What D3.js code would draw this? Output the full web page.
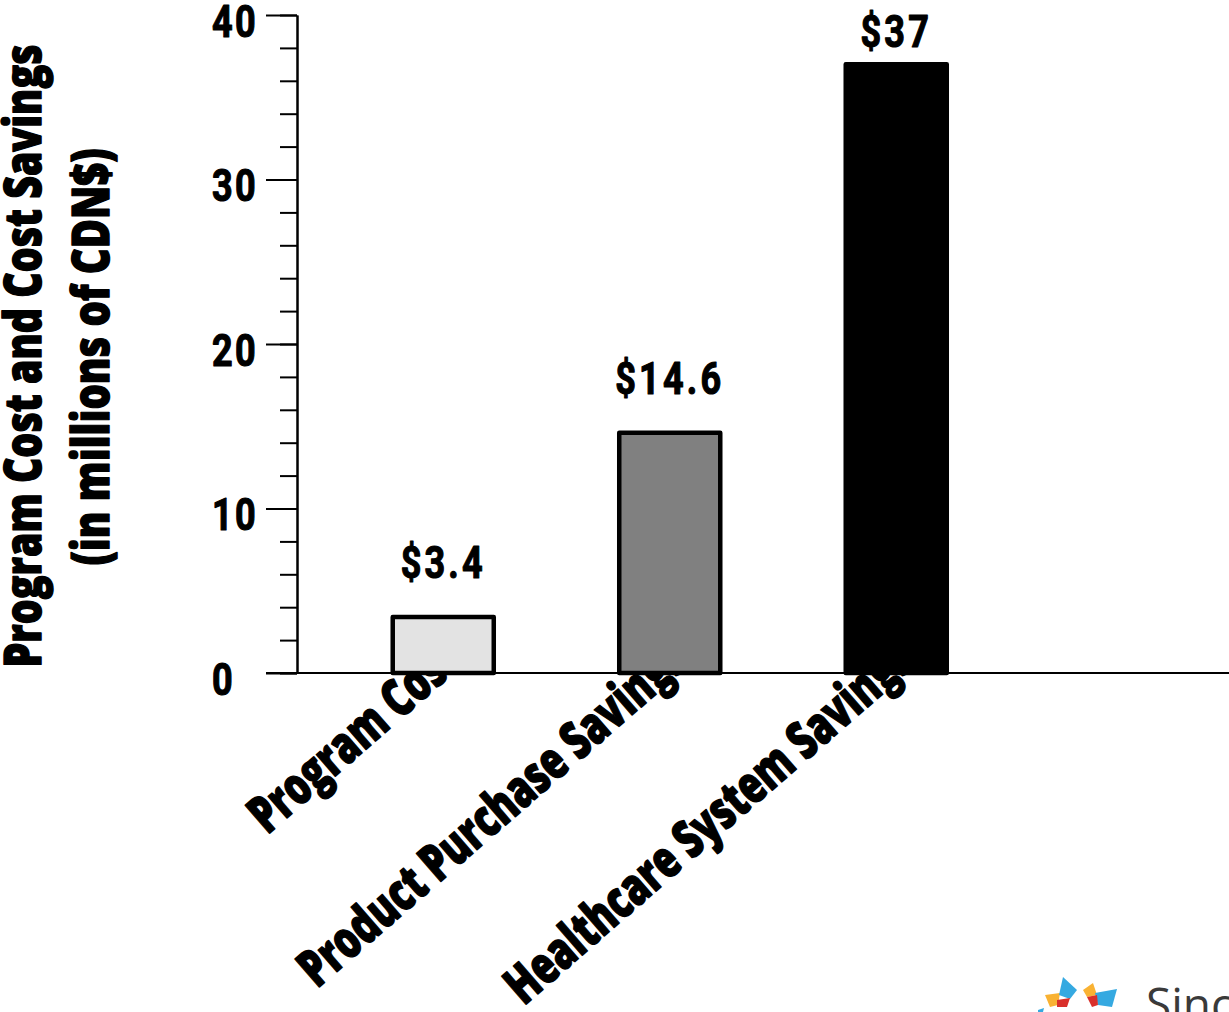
<!DOCTYPE html>
<html>
<head>
<meta charset="utf-8">
<script src="https://cdn.jsdelivr.net/npm/d3@7"></script>
<style>
  html, body { margin: 0; padding: 0; background: #fff; }
  svg { display: block; }
</style>
</head>
<body>
<svg id="chart" width="1229" height="1012"></svg>
<script>
// Program cost vs. savings, millions of CDN$
const categories = ["Program Cost", "Product Purchase Savings", "Healthcare System Savings"];
const values = [3.4, 14.6, 37];
const valueLabels = ["$3.4", "$14.6", "$37"];
const majorTicks = [0, 10, 20, 30, 40];
const tickLabels = ["0", "10", "20", "30", "40"];
const minorTicks = d3.range(0, 41, 2);
const titleLines = ["Program Cost and Cost Savings", "(in millions of CDN$)"];

const barFills = ["#e3e3e3", "#808080", "#000000"];
const headFont = "'Open Sans', 'Noto Sans', 'DejaVu Sans', sans-serif";
const numFont = "Roboto, 'Liberation Sans', sans-serif";

const W = 1229, H = 1012;
const svg = d3.select("#chart");

const y = d3.scaleLinear().domain([0, 40]).range([673, 15]);
const x = d3.scaleBand().domain(categories).range([330, 1009.5])
  .paddingInner(0.554).paddingOuter(0.277);

// heavy text: a thin same-colour outline thickens the glyphs
function heavy(sel, w) {
  return sel.attr("fill", "#000").attr("stroke", "#000")
    .attr("stroke-width", w).attr("stroke-linejoin", "round");
}

// y-axis title (two centred lines, rotated)
const titleG = svg.append("g");
const t1 = titleG.append("text")
  .attr("transform", "translate(41,356) rotate(-90)")
  .attr("text-anchor", "middle")
  .attr("font-family", headFont).attr("font-weight", 800).attr("font-size", 52)
  .text(titleLines[0]);
heavy(t1, 1.4);
const natural1 = t1.node().getComputedTextLength();
t1.attr("textLength", 623).attr("lengthAdjust", "spacingAndGlyphs");
const t2 = titleG.append("text")
  .attr("transform", "translate(109,357) rotate(-90)")
  .attr("text-anchor", "middle")
  .attr("font-family", headFont).attr("font-weight", 800).attr("font-size", 52)
  .attr("textLength", 417).attr("lengthAdjust", "spacingAndGlyphs")
  .text(titleLines[1]);
heavy(t2, 1.4);

// category labels use a slightly tighter condensing than the title
const squeeze = 0.95 * 623 / natural1;

// category labels, rotated; bars are drawn over their ends
heavy(svg.append("g").selectAll("text")
  .data(categories)
  .join("text")
  .attr("transform", d => `translate(${x(d) + x.bandwidth() / 2 + 20},665) rotate(-41) scale(${squeeze},1)`)
  .attr("text-anchor", "end")
  .attr("font-family", headFont).attr("font-weight", 800).attr("font-size", 52)
  .text(d => d), 1.4);

// baseline
svg.append("line")
  .attr("x1", 266).attr("x2", W)
  .attr("y1", y(0)).attr("y2", y(0))
  .attr("stroke", "#000").attr("stroke-width", 2);

// bars
svg.append("g").selectAll("rect")
  .data(values)
  .join("rect")
  .attr("x", (d, i) => x(categories[i]))
  .attr("width", x.bandwidth())
  .attr("y", d => y(d))
  .attr("height", d => y(0) - y(d))
  .attr("fill", (d, i) => barFills[i])
  .attr("stroke", "#000").attr("stroke-width", 4.5)
  .attr("stroke-linejoin", "round");

// value labels above bars, kept inside the plot top
heavy(svg.append("g").selectAll("text")
  .data(values)
  .join("text")
  .attr("transform", (d, i) => {
    const cx = x(categories[i]) + x.bandwidth() / 2;
    const by = Math.max(y(d) - 39, y(40) + 32);
    return `translate(${cx},${by}) scale(0.8,1)`;
  })
  .attr("text-anchor", "middle")
  .attr("font-family", numFont).attr("font-weight", 700).attr("font-size", 45)
  .attr("letter-spacing", 4)
  .text((d, i) => valueLabels[i]), 1.2);

// y axis: minor ticks every 2, major ticks every 10
const minorAxis = d3.axisLeft(y).tickValues(minorTicks).tickSize(17).tickSizeOuter(0).tickFormat("");
const majorAxis = d3.axisLeft(y).tickValues(majorTicks).tickSize(31).tickSizeOuter(0).tickFormat("");
const gMinor = svg.append("g").attr("transform", "translate(297,0)").call(minorAxis);
const gMajor = svg.append("g").attr("transform", "translate(297,0)").call(majorAxis);
[gMinor, gMajor].forEach(g => {
  g.selectAll("path, line").attr("stroke", "#000").attr("stroke-width", 2);
});

// tick labels, left aligned
heavy(svg.append("g").selectAll("text")
  .data(majorTicks)
  .join("text")
  .attr("transform", d => `translate(212,${y(d) + 21.5}) scale(0.8,1)`)
  .attr("font-family", numFont).attr("font-weight", 700).attr("font-size", 45)
  .attr("letter-spacing", 3)
  .text((d, i) => tickLabels[i]), 1.2);

// brand mark in the lower right corner
const logo = svg.append("g").attr("transform", "translate(1038,975)");
const logoShapes = [
  { c: "#f9b233", p: [[7, 20], [22, 18], [20, 30], [12, 32]] },
  { c: "#35a9e1", p: [[25, 2], [39, 15], [32, 24], [21, 20]] },
  { c: "#d9302b", p: [[19, 25], [32, 23], [29, 32], [19, 32]] },
  { c: "#f9b233", p: [[45, 15], [55, 8], [59, 20], [49, 22]] },
  { c: "#35a9e1", p: [[57, 18], [79, 14], [74, 32], [60, 30]] },
  { c: "#d9302b", p: [[49, 22], [59, 20], [60, 30], [54, 32]] },
  { c: "#35a9e1", p: [[0, 35], [6, 33], [5, 37], [0, 37]] }
];
logo.selectAll("polygon")
  .data(logoShapes)
  .join("polygon")
  .attr("points", d => d.p.map(q => q.join(",")).join(" "))
  .attr("fill", d => d.c);
svg.append("text")
  .attr("x", 1146).attr("y", 1021)
  .attr("font-family", "'Open Sans', sans-serif").attr("font-size", 46)
  .attr("fill", "#3a3a3a")
  .text("Sinc");
</script>
</body>
</html>
